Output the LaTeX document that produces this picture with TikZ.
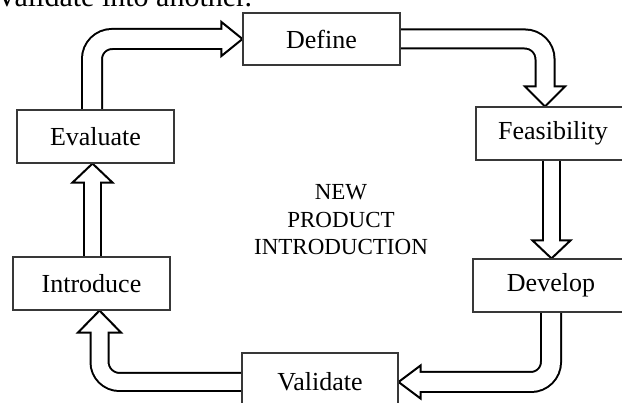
\documentclass[tikz,border=0pt]{standalone}
\usepackage{fontspec}
\setmainfont{Liberation Serif}
\definecolor{boxgray}{HTML}{383838}
\newcommand\labelfont{\fontsize{26}{30}\selectfont}
\newcommand\centerfont{\fontsize{23}{27.5}\selectfont}
\newcommand\topfont{\fontsize{30}{34}\selectfont}
\tikzset{
  shaftout/.style={draw=black, line width=#1, rounded corners=20pt},
  shaftin/.style={draw=white, line width=#1, rounded corners=20pt},
  headstyle/.style={draw=black, fill=white, line width=2pt, line join=miter},
  box/.style={draw=boxgray, fill=white, line width=1.1pt, font=\labelfont, inner sep=0pt, anchor=center},
  ghost/.style={box, draw=none, fill=none},
}
\begin{document}
\begin{tikzpicture}[x=1pt,y=-1pt]
\useasboundingbox (0,0) rectangle (622,403);
\clip (0,0) rectangle (622,403);
\fill[white] (0,0) rectangle (622,403);
% top partial text
\node[anchor=base west, font=\topfont, inner sep=0pt] (toptext) at (-4,7) {Validate into another.};
% box positions (drawn later on top of the arrows)
\path
  (321.5,39)   node[ghost, minimum width=157pt, minimum height=52pt] (def) {}
  (95.5,136.5) node[ghost, minimum width=157pt, minimum height=53pt] (eva) {}
  (553,133.5)  node[ghost, minimum width=154pt, minimum height=53pt] (fea) {}
  (91.5,283.5) node[ghost, minimum width=157pt, minimum height=53pt] (int) {}
  (551,285.5)  node[ghost, minimum width=156pt, minimum height=53pt] (dev) {}
  (320,382)    node[ghost, minimum width=156pt, minimum height=58pt] (val) {};
\coordinate (ax) at (92,0);
\coordinate (bx) at (545,0);
\coordinate (cx) at (551.5,0);
\coordinate (dx) at (551,0);
\coordinate (ex) at (99.5,0);
\coordinate (fx) at (92.5,0);
% A: Evaluate -> Define
\draw[shaftout=22pt] ([yshift=-8pt]eva.north -| ax) |- ([xshift=-19pt]def.west);
\draw[headstyle] ([xshift=-21pt,yshift=17pt]def.west) -- (def.west) -- ([xshift=-21pt,yshift=-17pt]def.west) -- cycle;
\draw[shaftin=18pt] ([yshift=-8pt]eva.north -| ax) |- ([xshift=-19pt]def.west);
% B: Define -> Feasibility
\draw[shaftout=21pt] ([xshift=-8pt]def.east) -| ([yshift=18pt]fea.north -| bx);
\draw[headstyle] ([xshift=-20pt,yshift=20pt]fea.north -| bx) -- (fea.north -| bx) -- ([xshift=20pt,yshift=20pt]fea.north -| bx) -- cycle;
\draw[shaftin=17pt] ([xshift=-8pt]def.east) -| ([yshift=18pt]fea.north -| bx);
% C: Feasibility -> Develop
\draw[shaftout=19pt] ([yshift=8pt]fea.south -| cx) -- ([yshift=16pt]dev.north -| cx);
\draw[headstyle] ([xshift=-19pt,yshift=18pt]dev.north -| cx) -- (dev.north -| cx) -- ([xshift=19pt,yshift=18pt]dev.north -| cx) -- cycle;
\draw[shaftin=15pt] ([yshift=8pt]fea.south -| cx) -- ([yshift=16pt]dev.north -| cx);
% D: Develop -> Validate
\draw[shaftout=22pt] ([yshift=8pt]dev.south -| dx) |- ([xshift=20pt]val.east);
\draw[headstyle] ([xshift=22pt,yshift=16.5pt]val.east) -- (val.east) -- ([xshift=22pt,yshift=-16.5pt]val.east) -- cycle;
\draw[shaftin=18pt] ([yshift=8pt]dev.south -| dx) |- ([xshift=20pt]val.east);
% E: Validate -> Introduce
\draw[shaftout=20pt] ([xshift=8pt]val.west) -| ([yshift=-20pt]int.south -| ex);
\draw[headstyle] ([xshift=-21.5pt,yshift=-22pt]int.south -| ex) -- (int.south -| ex) -- ([xshift=21.5pt,yshift=-22pt]int.south -| ex) -- cycle;
\draw[shaftin=16pt] ([xshift=8pt]val.west) -| ([yshift=-20pt]int.south -| ex);
% F: Introduce -> Evaluate
\draw[shaftout=19pt] ([yshift=-8pt]int.north -| fx) -- ([yshift=-17pt]eva.south -| fx);
\draw[headstyle] ([xshift=-20pt,yshift=-19pt]eva.south -| fx) -- (eva.south -| fx) -- ([xshift=20pt,yshift=-19pt]eva.south -| fx) -- cycle;
\draw[shaftin=15pt] ([yshift=-8pt]int.north -| fx) -- ([yshift=-17pt]eva.south -| fx);
% visible boxes
\node[box, minimum width=157pt, minimum height=52pt] at (def) {Define};
\node[box, minimum width=157pt, minimum height=53pt] at (eva) {Evaluate};
\node[box, minimum width=154pt, minimum height=53pt] at (fea) {Feasibility};
\node[box, minimum width=157pt, minimum height=53pt] at (int) {Introduce};
\node[box, minimum width=156pt, minimum height=53pt] at (dev) {Develop};
\node[box, minimum width=156pt, minimum height=58pt] at (val) {Validate};
% centre title
\node[align=center, font=\centerfont, inner sep=0pt] (title) at (341,220) {NEW\\PRODUCT\\INTRODUCTION};
\end{tikzpicture}
\end{document}
